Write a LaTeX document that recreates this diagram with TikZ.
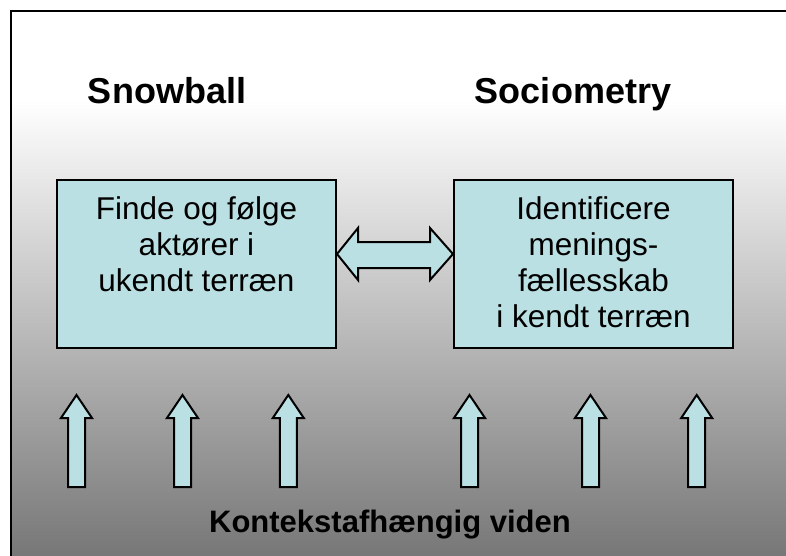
\documentclass[tikz,border=0pt]{standalone}
\usepackage{fontspec}
\setmainfont{Liberation Sans}
\definecolor{boxfill}{HTML}{BBE0E3}
\definecolor{bggray}{RGB}{119,119,119}
\tikzset{
  boxstyle/.style={draw=black, line width=2pt, fill=boxfill, inner sep=0pt, anchor=north west},
  shapestyle/.style={draw=black, line width=2pt, fill=boxfill, line join=miter},
  titlestyle/.style={font=\fontsize{36}{40}\selectfont\bfseries, anchor=base, inner sep=0pt},
  uparr/.pic={\path[shapestyle] (0,0) -- (15.5,23) -- (8.5,23) -- (8.5,92) -- (-8.5,92) -- (-8.5,23) -- (-15.5,23) -- cycle;}
}
\newcommand{\boxtext}[1]{\parbox[t][168pt][t]{279pt}{\centering\fontsize{31.5}{36}\selectfont\rule{0pt}{39pt}#1}}
\begin{document}
\begin{tikzpicture}[x=1pt,y=-1pt]
\useasboundingbox (0,0) rectangle (786,556);
\fill[white] (0,0) rectangle (786,556);
\fill[white] (11,11) rectangle (786,100);
\shade[top color=white, bottom color=bggray] (11,100) rectangle (786,556);
\draw[line width=2pt] (786,11) -- (11,11) -- (11,556);

\node[titlestyle] (snow) at (167,104) {Snowball};
\node[titlestyle] (socio) at (573,104) {Sociometry};

\node[boxstyle] (left) at (56,179) {\boxtext{Finde og følge\\aktører i\\ukendt terræn}};
\node[boxstyle] (right) at (453,179) {\boxtext{Identificere\\menings-\\fællesskab\\i kendt terræn}};

\path[shapestyle] (left.east |- 0,254) -- (358,228) -- (358,242) -- (430,242) -- (430,228)
  -- (right.west |- 0,254) -- (430,280) -- (430,268) -- (358,268) -- (358,280) -- cycle;

\foreach \xx/\nm in {76.5/a1,182.5/a2,288.3/a3,469.5/a4,590.5/a5,696.7/a6}
  \pic (\nm) at (\xx,395) {uparr};

\node[font=\fontsize{31}{36}\selectfont\bfseries, anchor=base, inner sep=0pt] (ctx) at (390,532) {Kontekstafhængig viden};
\end{tikzpicture}
\end{document}
